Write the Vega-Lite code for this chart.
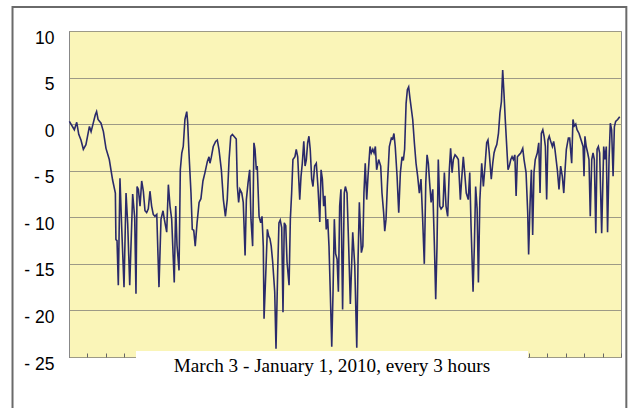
{
  "$schema": "https://vega.github.io/schema/vega-lite/v6.json",
  "width": 552,
  "height": 326,
  "autosize": {"type": "none"},
  "padding": {"left": 69, "top": 31, "right": 8, "bottom": 51},
  "background": "white",
  "config": {"view": {"fill": "#FAF5B8", "stroke": "#8c8c8c", "strokeWidth": 1}},
  "layer": [
    {
      "data": {"values": [
        {"day":0.2,"value":0.3},{"day":2.9,"value":-0.6},{"day":4.2,"value":0.2},{"day":5.3,"value":-1.1},{"day":6.5,"value":-1.7},{"day":7.8,"value":-2.7},{"day":9.2,"value":-2.2},{"day":11.1,"value":-0.25},{"day":12.0,"value":-0.8},{"day":12.9,"value":-0.1},{"day":14.3,"value":1.0},{"day":15.0,"value":1.35},{"day":15.8,"value":0.5},{"day":17.4,"value":0.1},{"day":18.7,"value":-0.8},{"day":20.1,"value":-2.6},{"day":21.9,"value":-3.8},{"day":23.7,"value":-6},{"day":25.2,"value":-7.4},{"day":25.5,"value":-12.4},{"day":26.1,"value":-12.5},{"day":26.8,"value":-17.3},{"day":27.7,"value":-5.8},{"day":28.6,"value":-10.9},{"day":29.9,"value":-17.5},{"day":31.0,"value":-7.4},{"day":31.9,"value":-10.7},{"day":33.0,"value":-17.3},{"day":34.6,"value":-7.5},{"day":35.7,"value":-10},{"day":36.4,"value":-18.2},{"day":37.0,"value":-6.7},{"day":37.7,"value":-7.0},{"day":38.6,"value":-8.8},{"day":39.5,"value":-6.1},{"day":40.4,"value":-7.2},{"day":41.3,"value":-9.3},{"day":42.2,"value":-9.5},{"day":43.1,"value":-9.1},{"day":44.0,"value":-7.2},{"day":44.9,"value":-8.8},{"day":45.8,"value":-9.7},{"day":46.7,"value":-9.9},{"day":47.7,"value":-9.7},{"day":48.9,"value":-17.5},{"day":50.0,"value":-10.2},{"day":51.1,"value":-9.3},{"day":51.8,"value":-10.2},{"day":53.1,"value":-11.6},{"day":54.0,"value":-6.5},{"day":54.9,"value":-8.8},{"day":55.8,"value":-10.2},{"day":57.2,"value":-17},{"day":58.0,"value":-8.8},{"day":58.7,"value":-13},{"day":59.8,"value":-15.7},{"day":60.5,"value":-4.9},{"day":61.3,"value":-3.1},{"day":62.1,"value":-2.4},{"day":63.0,"value":0.5},{"day":64.0,"value":1.35},{"day":64.5,"value":0.2},{"day":65.2,"value":-3.1},{"day":66.3,"value":-7.4},{"day":67.0,"value":-11.3},{"day":67.8,"value":-11.4},{"day":68.6,"value":-13.1},{"day":69.6,"value":-10.6},{"day":70.7,"value":-8.4},{"day":71.7,"value":-8.0},{"day":72.8,"value":-6.1},{"day":73.9,"value":-5.2},{"day":75.2,"value":-4.0},{"day":76.1,"value":-3.5},{"day":76.6,"value":-4.2},{"day":77.3,"value":-3.6},{"day":78.4,"value":-2.4},{"day":79.7,"value":-1.85},{"day":80.6,"value":-1.7},{"day":81.5,"value":-2.7},{"day":82.8,"value":-4.9},{"day":83.9,"value":-8.1},{"day":85.0,"value":-9.9},{"day":86.0,"value":-8.1},{"day":87.0,"value":-3.8},{"day":87.9,"value":-1.3},{"day":88.8,"value":-1.1},{"day":90.1,"value":-1.4},{"day":90.9,"value":-1.6},{"day":91.5,"value":-6.7},{"day":92.2,"value":-8.4},{"day":92.9,"value":-7.0},{"day":93.9,"value":-7.4},{"day":94.7,"value":-8.4},{"day":95.7,"value":-14.1},{"day":96.4,"value":-8.1},{"day":97.3,"value":-6.3},{"day":98.2,"value":-4.9},{"day":98.9,"value":-10.2},{"day":99.8,"value":-13.1},{"day":100.5,"value":-2.0},{"day":101.1,"value":-2.7},{"day":101.8,"value":-4.9},{"day":102.3,"value":-4.5},{"day":103.3,"value":-9.9},{"day":104.2,"value":-10.6},{"day":104.9,"value":-9.9},{"day":105.6,"value":-13.1},{"day":106.0,"value":-20.9},{"day":107.1,"value":-15.2},{"day":107.8,"value":-11.3},{"day":108.5,"value":-12.0},{"day":109.2,"value":-12.3},{"day":109.9,"value":-13.1},{"day":110.7,"value":-14.8},{"day":111.8,"value":-18},{"day":112.5,"value":-24.1},{"day":113.4,"value":-15.9},{"day":114.1,"value":-10.6},{"day":114.8,"value":-10.3},{"day":115.6,"value":-11.1},{"day":116.3,"value":-20.2},{"day":117.0,"value":-10.6},{"day":117.8,"value":-10.9},{"day":118.5,"value":-14.8},{"day":119.6,"value":-17.3},{"day":120.3,"value":-10.2},{"day":121.0,"value":-7.4},{"day":121.7,"value":-3.8},{"day":122.8,"value":-3.5},{"day":123.5,"value":-2.7},{"day":124.3,"value":-3.5},{"day":125.4,"value":-8.1},{"day":126.1,"value":-5.6},{"day":126.8,"value":-4.2},{"day":127.6,"value":-1.85},{"day":128.3,"value":-4.5},{"day":129.0,"value":-3.8},{"day":129.7,"value":-2.0},{"day":130.4,"value":-1.3},{"day":131.1,"value":-2.7},{"day":131.9,"value":-5.9},{"day":132.6,"value":-6.7},{"day":133.5,"value":-4.5},{"day":134.4,"value":-4.2},{"day":135.3,"value":-6.7},{"day":136.3,"value":-10.5},{"day":137.0,"value":-4.9},{"day":137.7,"value":-5.9},{"day":138.4,"value":-8.8},{"day":139.1,"value":-7.7},{"day":139.8,"value":-11.3},{"day":140.6,"value":-10.2},{"day":141.3,"value":-13.1},{"day":142.0,"value":-18},{"day":142.8,"value":-23.9},{"day":143.5,"value":-18},{"day":144.2,"value":-10.2},{"day":144.9,"value":-13.9},{"day":145.7,"value":-14.5},{"day":146.4,"value":-18},{"day":147.1,"value":-8.8},{"day":147.8,"value":-7.0},{"day":148.7,"value":-19.9},{"day":149.6,"value":-7.4},{"day":150.2,"value":-6.7},{"day":151.1,"value":-7.4},{"day":152.0,"value":-13.1},{"day":152.9,"value":-19.3},{"day":154.2,"value":-11.6},{"day":155.3,"value":-15.2},{"day":156.4,"value":-24.0},{"day":157.1,"value":-14.5},{"day":157.8,"value":-8.4},{"day":158.9,"value":-13.8},{"day":159.7,"value":-13.1},{"day":160.3,"value":-7.4},{"day":161.0,"value":-4.2},{"day":161.8,"value":-8.1},{"day":162.5,"value":-5.6},{"day":163.6,"value":-2.4},{"day":164.3,"value":-3.1},{"day":165.1,"value":-2.7},{"day":165.8,"value":-3.1},{"day":166.5,"value":-2.4},{"day":167.2,"value":-4.9},{"day":168.3,"value":-3.8},{"day":169.4,"value":-4.5},{"day":170.1,"value":-7.4},{"day":171.0,"value":-9.5},{"day":171.6,"value":-11.5},{"day":172.3,"value":-10.2},{"day":173.0,"value":-6.7},{"day":174.1,"value":-2.4},{"day":175.2,"value":-1.5},{"day":175.9,"value":-1.6},{"day":176.6,"value":-1.0},{"day":177.3,"value":-2.4},{"day":178.3,"value":-5.6},{"day":179.2,"value":-9.5},{"day":180.1,"value":-5.2},{"day":181.0,"value":-3.5},{"day":181.7,"value":-3.9},{"day":182.4,"value":-2.7},{"day":183.2,"value":2.2},{"day":183.9,"value":3.7},{"day":184.6,"value":4.0},{"day":185.3,"value":2.8},{"day":186.8,"value":0.5},{"day":187.7,"value":-2.0},{"day":188.6,"value":-4.2},{"day":189.5,"value":-5.6},{"day":190.4,"value":-7.4},{"day":191.3,"value":-5.9},{"day":192.2,"value":-10.2},{"day":193.1,"value":-15.0},{"day":193.9,"value":-6.3},{"day":194.6,"value":-3.3},{"day":195.3,"value":-4.2},{"day":196.0,"value":-6.3},{"day":196.8,"value":-8.4},{"day":197.7,"value":-7.0},{"day":198.6,"value":-13.1},{"day":199.3,"value":-18.8},{"day":200.0,"value":-13.1},{"day":200.7,"value":-3.8},{"day":201.5,"value":-8.8},{"day":202.2,"value":-9.1},{"day":203.3,"value":-8.8},{"day":204.0,"value":-5.2},{"day":204.9,"value":-8.8},{"day":205.8,"value":-9.9},{"day":206.7,"value":-4.9},{"day":207.4,"value":-2.6},{"day":208.2,"value":-5.2},{"day":208.9,"value":-3.8},{"day":209.8,"value":-3.3},{"day":210.7,"value":-3.5},{"day":211.6,"value":-3.8},{"day":212.7,"value":-8.1},{"day":213.4,"value":-5.9},{"day":214.3,"value":-3.5},{"day":215.2,"value":-5.6},{"day":215.9,"value":-7.4},{"day":217.0,"value":-8.1},{"day":217.8,"value":-5.2},{"day":218.5,"value":-10.9},{"day":219.6,"value":-18.0},{"day":220.3,"value":-13.1},{"day":221.0,"value":-6.7},{"day":221.8,"value":-9.1},{"day":222.5,"value":-17.0},{"day":223.3,"value":-8.1},{"day":224.3,"value":-4.2},{"day":225.2,"value":-6.7},{"day":226.1,"value":-4.5},{"day":227.0,"value":-2.0},{"day":227.7,"value":-1.7},{"day":228.4,"value":-3.1},{"day":229.5,"value":-5.9},{"day":230.3,"value":-4.2},{"day":231.0,"value":-3.1},{"day":231.7,"value":-2.6},{"day":232.5,"value":-2.2},{"day":233.4,"value":-1.0},{"day":234.2,"value":1.2},{"day":235.0,"value":2.4},{"day":235.7,"value":5.8},{"day":236.4,"value":3.3},{"day":237.1,"value":0.5},{"day":237.9,"value":-2.4},{"day":238.6,"value":-4.9},{"day":239.3,"value":-4.5},{"day":240.1,"value":-3.8},{"day":240.8,"value":-3.5},{"day":241.5,"value":-3.8},{"day":242.3,"value":-3.3},{"day":243.0,"value":-7.7},{"day":243.7,"value":-3.5},{"day":244.6,"value":-3.3},{"day":245.5,"value":-3.1},{"day":246.6,"value":-2.6},{"day":247.3,"value":-3.8},{"day":248.4,"value":-5.2},{"day":249.3,"value":-9.5},{"day":249.8,"value":-14.0},{"day":250.6,"value":-8.4},{"day":251.3,"value":-4.9},{"day":252.0,"value":-11.9},{"day":252.7,"value":-5.2},{"day":253.4,"value":-3.8},{"day":254.5,"value":-3.1},{"day":255.3,"value":-2.0},{"day":256.0,"value":-7.4},{"day":256.7,"value":-1.0},{"day":257.5,"value":-0.6},{"day":258.2,"value":-1.3},{"day":258.9,"value":-2.4},{"day":259.6,"value":-8.1},{"day":260.3,"value":-1.7},{"day":261.0,"value":-1.3},{"day":261.8,"value":-1.85},{"day":262.7,"value":-2.4},{"day":263.4,"value":-1.85},{"day":264.1,"value":-2.7},{"day":265.4,"value":-4.9},{"day":266.3,"value":-7.0},{"day":267.2,"value":-4.5},{"day":268.1,"value":-5.6},{"day":268.9,"value":-7.4},{"day":269.6,"value":-4.9},{"day":270.3,"value":-2.7},{"day":271.4,"value":-1.5},{"day":272.1,"value":-1.5},{"day":273.2,"value":-4.2},{"day":273.9,"value":0.5},{"day":274.6,"value":-0.2},{"day":275.4,"value":0},{"day":276.1,"value":-0.6},{"day":277.2,"value":-1.0},{"day":278.3,"value":-1.7},{"day":279.4,"value":-2.4},{"day":279.9,"value":-5.6},{"day":280.4,"value":-1.3},{"day":281.1,"value":-2.4},{"day":281.9,"value":-3.1},{"day":282.6,"value":-3.8},{"day":283.3,"value":-9.9},{"day":284.1,"value":-3.8},{"day":284.8,"value":-3.1},{"day":285.5,"value":-3.8},{"day":286.3,"value":-11.7},{"day":287.0,"value":-2.7},{"day":287.7,"value":-2.4},{"day":288.4,"value":-3.1},{"day":289.5,"value":-11.7},{"day":290.6,"value":-2.4},{"day":291.3,"value":-3.8},{"day":292.0,"value":-2.4},{"day":292.7,"value":-11.6},{"day":293.5,"value":-3.8},{"day":294.2,"value":0.1},{"day":294.9,"value":-0.6},{"day":295.7,"value":-5.6},{"day":296.4,"value":-0.3},{"day":297.1,"value":0.3},{"day":298.2,"value":0.5},{"day":299.3,"value":0.8}
      ]},
      "mark": {"type": "line", "color": "#2A2A6A", "strokeWidth": 1.6},
      "encoding": {
        "x": {
          "field": "day", "type": "quantitative",
          "scale": {"domain": [0, 300], "nice": false, "zero": false},
          "axis": {"values": [0,10,20,30,40,50,60,70,80,90,100,110,120,130,140,150,160,170,180,190,200,210,220,230,240,250,260,270,280,290,300], "labels": false, "title": null, "grid": false, "domain": false, "offset": -4, "tickSize": 4, "tickColor": "#666666", "tickWidth": 1}
        },
        "y": {
          "field": "value", "type": "quantitative",
          "scale": {"domain": [-25, 10], "nice": false, "zero": false},
          "axis": {"values": [-25,-20,-15,-10,-5,0,5,10], "title": null, "ticks": false, "labelPadding": 15, "labelOffset": 7, "labelFont": "Liberation Sans", "labelFontSize": 17.5, "labelColor": "#000000", "labelExpr": "datum.value < 0 ? '- ' + abs(datum.value) : datum.label", "gridColor": "#9d9a86", "gridWidth": 1, "domainColor": "#888888"}
        }
      }
    },
    {
      "data": {"values": [{"box": "frame"}]},
      "mark": {"type": "rect", "fill": null, "fillOpacity": 0, "stroke": "#6a6a6a", "strokeWidth": 2, "clip": false},
      "encoding": {
        "x": {"datum": -30.7, "type": "quantitative", "axis": {"values": [0,10,20,30,40,50,60,70,80,90,100,110,120,130,140,150,160,170,180,190,200,210,220,230,240,250,260,270,280,290,300], "labels": false, "title": null, "grid": false, "domain": false, "offset": -4, "tickSize": 4, "tickColor": "#666666", "tickWidth": 1}},
        "x2": {"datum": 302.9},
        "y": {"datum": 12.58, "type": "quantitative", "axis": {"values": [-25,-20,-15,-10,-5,0,5,10], "title": null, "ticks": false, "labelPadding": 15, "labelOffset": 7, "labelFont": "Liberation Sans", "labelFontSize": 17.5, "labelColor": "#000000", "labelExpr": "datum.value < 0 ? '- ' + abs(datum.value) : datum.label", "gridColor": "#9d9a86", "gridWidth": 1, "domainColor": "#888888"}},
        "y2": {"datum": -32}
      }
    },
    {
      "data": {"values": [{"box": "title"}]},
      "mark": {"type": "rect", "fill": "white", "stroke": null, "clip": false},
      "encoding": {
        "x": {"datum": 36.4, "type": "quantitative", "axis": {"values": [0,10,20,30,40,50,60,70,80,90,100,110,120,130,140,150,160,170,180,190,200,210,220,230,240,250,260,270,280,290,300], "labels": false, "title": null, "grid": false, "domain": false, "offset": -4, "tickSize": 4, "tickColor": "#666666", "tickWidth": 1}},
        "x2": {"datum": 249.5},
        "y": {"datum": -24.36, "type": "quantitative", "axis": {"values": [-25,-20,-15,-10,-5,0,5,10], "title": null, "ticks": false, "labelPadding": 15, "labelOffset": 7, "labelFont": "Liberation Sans", "labelFontSize": 17.5, "labelColor": "#000000", "labelExpr": "datum.value < 0 ? '- ' + abs(datum.value) : datum.label", "gridColor": "#9d9a86", "gridWidth": 1, "domainColor": "#888888"}},
        "y2": {"datum": -27.5}
      }
    },
    {
      "data": {"values": [{"label": "March 3 - January 1, 2010, every 3 hours"}]},
      "mark": {"type": "text", "font": "Liberation Serif", "fontSize": 19.2, "color": "#000000", "align": "center", "baseline": "alphabetic", "clip": false},
      "encoding": {
        "x": {"datum": 142.9, "type": "quantitative", "axis": {"values": [0,10,20,30,40,50,60,70,80,90,100,110,120,130,140,150,160,170,180,190,200,210,220,230,240,250,260,270,280,290,300], "labels": false, "title": null, "grid": false, "domain": false, "offset": -4, "tickSize": 4, "tickColor": "#666666", "tickWidth": 1}},
        "y": {"datum": -26.6, "type": "quantitative", "axis": {"values": [-25,-20,-15,-10,-5,0,5,10], "title": null, "ticks": false, "labelPadding": 15, "labelOffset": 7, "labelFont": "Liberation Sans", "labelFontSize": 17.5, "labelColor": "#000000", "labelExpr": "datum.value < 0 ? '- ' + abs(datum.value) : datum.label", "gridColor": "#9d9a86", "gridWidth": 1, "domainColor": "#888888"}},
        "text": {"field": "label"}
      }
    }
  ]
}
